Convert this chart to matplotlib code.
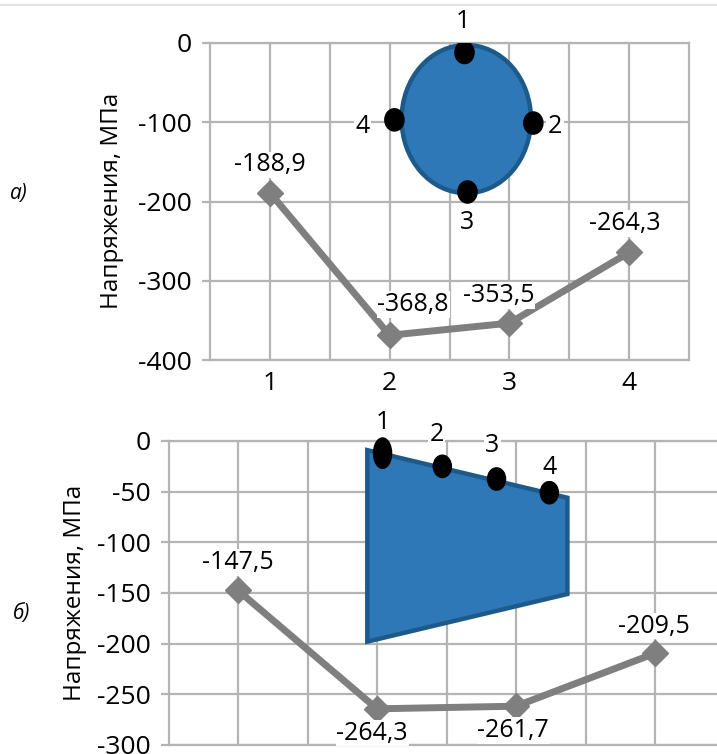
import matplotlib.pyplot as plt
from matplotlib.patches import Ellipse, Polygon
from matplotlib.lines import Line2D

plt.rcParams['font.family'] = ['Open Sans', 'DejaVu Sans']
plt.rcParams['axes.unicode_minus'] = False

# data
points = [1, 2, 3, 4]
stress_a = [-188.9, -368.8, -353.5, -264.3]
stress_b = [-147.5, -264.3, -261.7, -209.5]
value_labels_a = ['-188,9', '-368,8', '-353,5', '-264,3']
value_labels_b = ['-147,5', '-264,3', '-261,7', '-209,5']
yticks_a = [0, -100, -200, -300, -400]
yticks_b = [0, -50, -100, -150, -200, -250, -300]
ylabel = 'Напряжения, МПа'

# inset sketches (section shape + measuring points 1..4)
ellipse_center = (2.64, -96)
ellipse_size = (1.08, 187)
dots_a_x = [2.625, 3.20, 2.65, 2.04]
dots_a_y = [-12, -101, -188, -97]
numlab_a_x = [2.61, 3.38, 2.65, 1.775]
numlab_a_y = [26.5, -105, -226, -105]

trap_x = [1.93, 3.37, 3.37, 1.93]
trap_y = [-9, -56, -151, -198]
dots_b_x = [2.04, 2.47, 2.86, 3.24]
dots_b_y = [-12, -25, -37.5, -51]
numlab_b_x = [2.04, 2.43, 2.83, 3.24]
numlab_b_y = [18, 6, -4, -26]

# label offsets in points
offs_a = [(0, 20), (17, 22), (-8, 20), (-3, 21)]
offs_b = [(0, 20), (-3.5, -17.5), (-2, -17.5), (-1, 19.5)]

grid_c = '#b4b4b4'
line_c = '#7f7f7f'
fill_c = '#2e78b7'
edge_c = '#1d5a8a'

fig = plt.figure(figsize=(7.17, 7.54), dpi=100)
W, H = 717, 754

def px_axes(l, t, r, b):
    return fig.add_axes([l / W, 1 - b / H, (r - l) / W, (b - t) / H])

ax1 = px_axes(210, 43, 689, 360)
ax2 = px_axes(168.5, 441, 724.5, 745)

def style(ax, yticks, show_x):
    ax.set_xlim(0.5, 4.5)
    ax.set_ylim(min(yticks), max(yticks))
    ax.set_yticks(yticks)
    ax.set_xticks(points)
    ax.set_xticks([1.5, 2.5, 3.5], minor=True)
    ax.grid(True, which='both', color=grid_c, lw=1.6)
    ax.set_axisbelow(True)
    for s in ax.spines.values():
        s.set_color(grid_c)
        s.set_linewidth(1.6)
    ax.tick_params(axis='y', length=6, width=1.6, color=grid_c, pad=7, labelsize=19)
    ax.tick_params(axis='x', which='both', length=0, pad=8, labelsize=19, labelbottom=show_x)

style(ax1, yticks_a, True)
style(ax2, yticks_b, False)

# panel a
ax1.add_patch(Ellipse(ellipse_center, ellipse_size[0], ellipse_size[1],
                      facecolor=fill_c, edgecolor=edge_c, lw=3.2, zorder=3))
for x, y in zip(dots_a_x, dots_a_y):
    ax1.add_patch(Ellipse((x, y), 0.16, 28, color='black', zorder=4))
for i, (x, y) in enumerate(zip(numlab_a_x, numlab_a_y)):
    ax1.text(x, y, str(i + 1), ha='center', va='center', fontsize=18, zorder=5,
             clip_on=False, bbox=dict(fc='white', ec='none', pad=1))
ax1.plot(points, stress_a, color=line_c, lw=5, marker='D', ms=13, zorder=6)
for x, y, t, o in zip(points, stress_a, value_labels_a, offs_a):
    ax1.annotate(t, (x, y), xytext=o, textcoords='offset points', ha='center', va='center',
                 fontsize=18, zorder=7, bbox=dict(fc='white', ec='none', pad=0.5))

# panel b
ax2.add_patch(Polygon(list(zip(trap_x, trap_y)), closed=True,
                      facecolor=fill_c, edgecolor=edge_c, lw=3.2, zorder=3))
for i, (x, y) in enumerate(zip(dots_b_x, dots_b_y)):
    h = 30 if i == 0 else 22
    ax2.add_patch(Ellipse((x, y), 0.13, h, color='black', zorder=4, clip_on=False))
for i, (x, y) in enumerate(zip(numlab_b_x, numlab_b_y)):
    ax2.text(x, y, str(i + 1), ha='center', va='center', fontsize=18, zorder=5,
             clip_on=False, bbox=dict(fc='white', ec='none', pad=1))
ax2.plot(points, stress_b, color=line_c, lw=5, marker='D', ms=13, zorder=6)
for x, y, t, o in zip(points, stress_b, value_labels_b, offs_b):
    ax2.annotate(t, (x, y), xytext=o, textcoords='offset points', ha='center', va='center',
                 fontsize=18, zorder=7, bbox=dict(fc='white', ec='none', pad=0.5))

# axis titles and panel letters
fig.text(112 / W, 1 - 201 / H, ylabel, rotation=90, ha='center', va='center', fontsize=17.5)
fig.text(75 / W, 1 - 593 / H, ylabel, rotation=90, ha='center', va='center', fontsize=17.5)
fig.text(19 / W, 1 - 194 / H, 'а)', style='italic', ha='center', va='center', fontsize=15)
fig.text(22 / W, 1 - 614 / H, 'б)', style='italic', ha='center', va='center', fontsize=15)

# thin border line at the top
fig.add_artist(Line2D([0, 1], [1 - 5 / H, 1 - 5 / H], color='#e2e2e2', lw=1.5))

fig.savefig('out.png', dpi=100)
